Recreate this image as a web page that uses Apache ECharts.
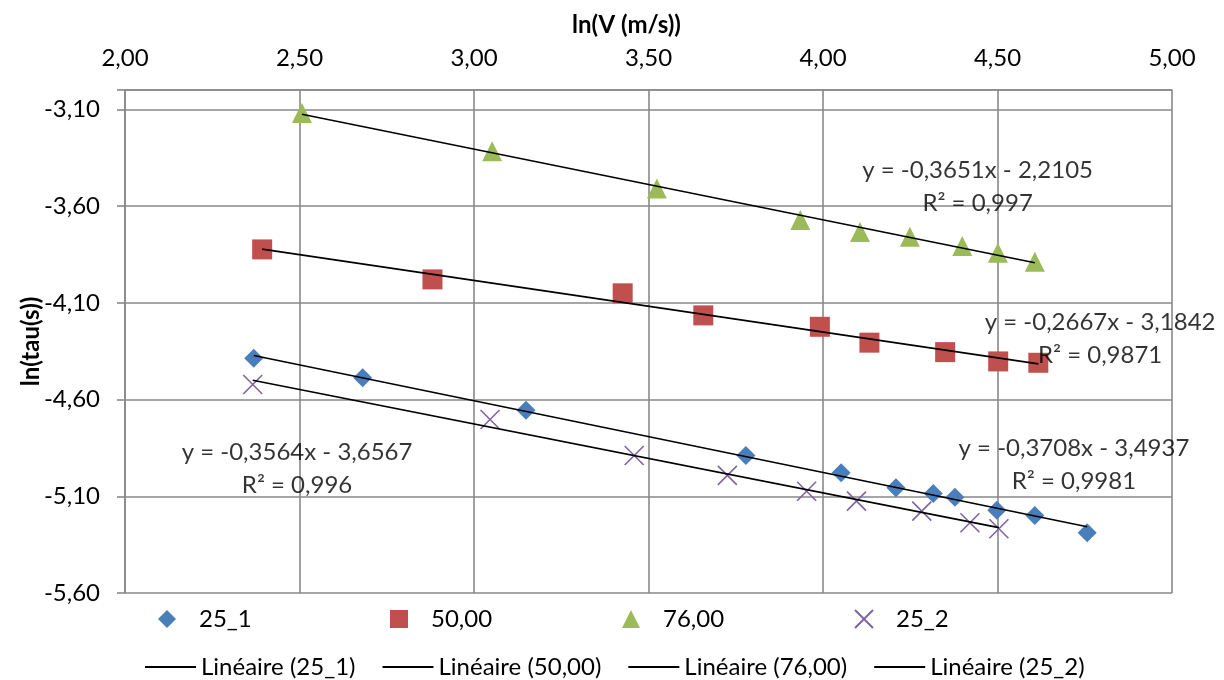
<!DOCTYPE html>
<html>
<head>
<meta charset="utf-8">
<title>ln(tau) vs ln(V)</title>
<script src="https://cdn.jsdelivr.net/npm/echarts@6/dist/echarts.min.js"></script>
<style>
  html, body { margin: 0; padding: 0; background: #fff; }
  #chart { width: 1224px; height: 680px; }
</style>
</head>
<body>
<div id="chart"></div>
<script>
// series: x = ln(V), y = ln(tau)
var x25_1 = [2.369, 2.681, 3.149, 3.779, 4.052, 4.209, 4.316, 4.378, 4.498, 4.607, 4.757];
var y25_1 = [-4.387, -4.487, -4.656, -4.889, -4.978, -5.056, -5.086, -5.105, -5.172, -5.199, -5.289];

var x50 = [2.393, 2.881, 3.426, 3.657, 3.991, 4.133, 4.350, 4.502, 4.617];
var y50 = [-3.824, -3.979, -4.051, -4.165, -4.224, -4.306, -4.355, -4.403, -4.410];

var x76 = [2.507, 3.052, 3.524, 3.935, 4.106, 4.249, 4.399, 4.501, 4.607];
var y76 = [-3.119, -3.316, -3.509, -3.672, -3.734, -3.758, -3.807, -3.841, -3.888];

var x25_2 = [2.366, 3.046, 3.459, 3.726, 3.953, 4.096, 4.283, 4.421, 4.504];
var y25_2 = [-4.522, -4.703, -4.889, -4.992, -5.074, -5.125, -5.177, -5.237, -5.268];

var seriesNames = ['25_1', '50,00', '76,00', '25_2'];
var trendNames = ['Linéaire (25_1)', 'Linéaire (50,00)', 'Linéaire (76,00)', 'Linéaire (25_2)'];

// trendline equations shown on the chart
var slopes = [-0.3708, -0.2667, -0.3651, -0.3564];
var intercepts = [-3.4937, -3.1842, -2.2105, -3.6567];
var eqTexts = ['y = -0,3708x - 3,4937', 'y = -0,2667x - 3,1842', 'y = -0,3651x - 2,2105', 'y = -0,3564x - 3,6567'];
var r2Texts = ['R² = 0,9981', 'R² = 0,9871', 'R² = 0,997', 'R² = 0,996'];
// where each equation label sits (data coords)
var eqX = [4.719, 4.794, 4.443, 2.493];
var eqY = [-4.936, -4.284, -3.498, -4.956];

var xMin = 2, xMax = 5, xStep = 0.5;
var yMin = -5.6, yMax = -3.0, yStep = 0.5;

(function() {
  var font = 'Lato';
  var grid = '#898989';
  var colors = ['#4a7ebb', '#c0504d', '#9bbb59', '#8064a2'];
  var symbols = ['diamond', 'rect', 'triangle', 'path://M0,0L10,10M10,0L0,10'];
  var sizes = [19, 20, 20, 19];
  var xs = [x25_1, x50, x76, x25_2];
  var ys = [y25_1, y50, y76, y25_2];

  function comma(v) { return v.toFixed(2).replace('.', ','); }

  var chart = echarts.init(document.getElementById('chart'), null, { renderer: 'canvas' });

  var series = [];
  for (var i = 0; i < 4; i++) {
    var pts = xs[i].map(function(x, k) { return [x, ys[i][k]]; });
    var isX = i === 3;
    series.push({
      name: seriesNames[i],
      type: 'scatter',
      data: pts,
      symbol: symbols[i],
      symbolSize: sizes[i],
      z: 2,
      itemStyle: isX
        ? { color: colors[i], borderColor: colors[i], borderWidth: 1.6, opacity: 1 }
        : { color: colors[i], opacity: 1 }
    });
  }
  for (var j = 0; j < 4; j++) {
    var lo = Math.min.apply(null, xs[j]);
    var hi = Math.max.apply(null, xs[j]);
    series.push({
      name: trendNames[j],
      type: 'line',
      data: [[lo, slopes[j] * lo + intercepts[j]], [hi, slopes[j] * hi + intercepts[j]]],
      symbol: 'none',
      showSymbol: false,
      z: 3,
      lineStyle: { color: '#000', width: 1.6 },
      itemStyle: { color: '#000' }
    });
  }
  series.push({
    name: 'equations',
    type: 'scatter',
    silent: true,
    z: 4,
    symbolSize: 1,
    itemStyle: { color: 'transparent' },
    data: eqX.map(function(x, k) { return { value: [x, eqY[k]], txt: eqTexts[k] + '\n' + r2Texts[k] }; }),
    label: {
      show: true,
      position: 'inside',
      align: 'center',
      verticalAlign: 'middle',
      color: '#000',
      fontFamily: font,
      fontSize: 24,
      lineHeight: 33,
      formatter: function(p) { return p.data.txt; }
    }
  });

  chart.setOption({
    animation: false,
    backgroundColor: '#fff',
    grid: { left: 125, right: 52, top: 90, bottom: 87 },
    legend: [
      {
        top: 602, left: 153, itemWidth: 18, itemHeight: 18, itemGap: 41,
        selectedMode: false,
        textStyle: { color: '#000', fontFamily: font, fontSize: 24, width: 150, lineHeight: 24, padding: [0, 0, 0, 18] },
        data: seriesNames
      },
      {
        top: 650, left: 140, itemWidth: 51, itemHeight: 2, itemGap: 27,
        selectedMode: false,
        textStyle: { color: '#000', fontFamily: font, fontSize: 24, width: 150, lineHeight: 24 },
        data: trendNames.map(function(n) { return { name: n, icon: 'rect' }; })
      }
    ],
    xAxis: {
      type: 'value',
      position: 'top',
      min: xMin,
      max: xMax,
      interval: xStep,
      name: 'ln(V (m/s))',
      nameLocation: 'middle',
      nameGap: 53,
      nameTextStyle: { color: '#000', fontFamily: font, fontSize: 24, fontWeight: 'bold', padding: [0, 44, 0, 0] },
      axisLine: { show: true, lineStyle: { color: grid, width: 1.6 } },
      axisTick: { show: false },
      axisLabel: { color: '#000', fontFamily: font, fontSize: 24, margin: 20, formatter: comma },
      splitLine: { show: true, lineStyle: { color: grid, width: 1.6 } }
    },
    yAxis: {
      type: 'value',
      min: yMin,
      max: yMax,
      interval: yStep,
      name: 'ln(tau(s))',
      nameLocation: 'middle',
      nameGap: 82,
      nameMoveOverlap: false,
      nameTextStyle: { color: '#000', fontFamily: font, fontSize: 24, fontWeight: 'bold' },
      axisLine: { show: true, lineStyle: { color: grid, width: 1.6 } },
      axisTick: { show: true, length: 8, lineStyle: { color: grid, width: 1.6 } },
      axisLabel: {
        color: '#000', fontFamily: font, fontSize: 24, margin: 25,
        formatter: function(v) {
          var k = (v - yMin) / yStep;
          return Math.abs(k - Math.round(k)) < 1e-6 ? comma(v) : '';
        }
      },
      splitLine: { show: true, lineStyle: { color: grid, width: 1.6 } }
    },
    series: series
  });

  window.addEventListener('resize', function() { chart.resize(); });
})();
</script>
</body>
</html>
